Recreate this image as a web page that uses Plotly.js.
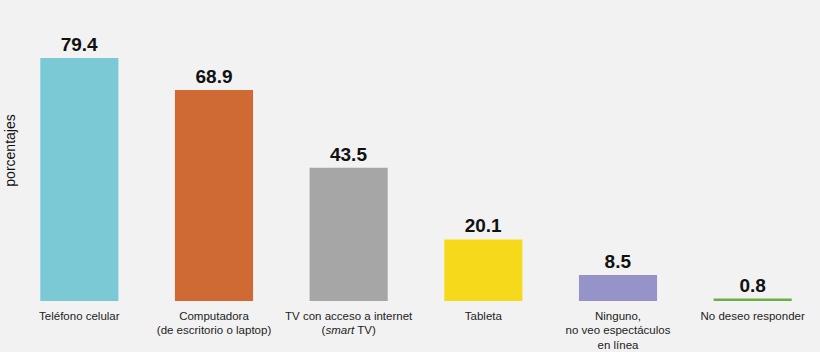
<!DOCTYPE html>
<html>
<head>
<meta charset="utf-8">
<script src="https://cdn.plot.ly/plotly-3.0.1.min.js"></script>
<style>html,body{margin:0;padding:0;background:#f2f2f2;}#chart{width:820px;height:352px;}</style>
</head>
<body>
<div id="chart"></div>
<script>
const categories = ["Teléfono celular", "Computadora<br>(de escritorio o laptop)", "TV con acceso a internet<br>(<i>smart</i> TV)", "Tableta", "Ninguno,<br>no veo espectáculos<br>en línea", "No deseo responder"];
const values = [79.4, 68.9, 43.5, 20.1, 8.5, 0.8];
const barColors = ["#7ac9d5", "#cf6a35", "#a6a6a6", "#f7d91c", "#9593c8", "#6aae45"];
const yTitle = "porcentajes";

const trace = {
  type: "bar",
  x: categories,
  y: values,
  marker: {color: barColors},
  text: values.map(v => v.toFixed(1)),
  textposition: "outside",
  textfont: {family: "Liberation Sans, Arial, sans-serif", size: 19, color: "#111"},
  texttemplate: "<b>%{text}</b>",
  cliponaxis: false,
  hoverinfo: "none"
};

const layout = {
  width: 820, height: 352,
  margin: {l: 12, r: 0, t: 20, b: 51},
  paper_bgcolor: "#f2f2f2",
  plot_bgcolor: "#f2f2f2",
  bargap: 0.42,
  showlegend: false,
  xaxis: {
    range: [-0.5, 5.5],
    showgrid: false, zeroline: false, showline: false,
    ticks: "", ticklen: 0,
    ticklabelstandoff: 6,
    tickfont: {family: "Liberation Sans, Arial, sans-serif", size: 11.5, color: "#222"},
    fixedrange: true
  },
  yaxis: {
    range: [0, 91.8],
    showgrid: false, zeroline: false, showline: false,
    showticklabels: false, ticks: "",
    fixedrange: true
  },
  annotations: [{
    text: yTitle, textangle: -90,
    xref: "paper", yref: "paper",
    x: 0, xshift: -2, y: 0.535,
    xanchor: "center", yanchor: "middle",
    showarrow: false,
    font: {family: "Liberation Sans, Arial, sans-serif", size: 14, color: "#111"}
  }]
};

Plotly.newPlot("chart", [trace], layout, {displayModeBar: false, staticPlot: true});
</script>
</body>
</html>
